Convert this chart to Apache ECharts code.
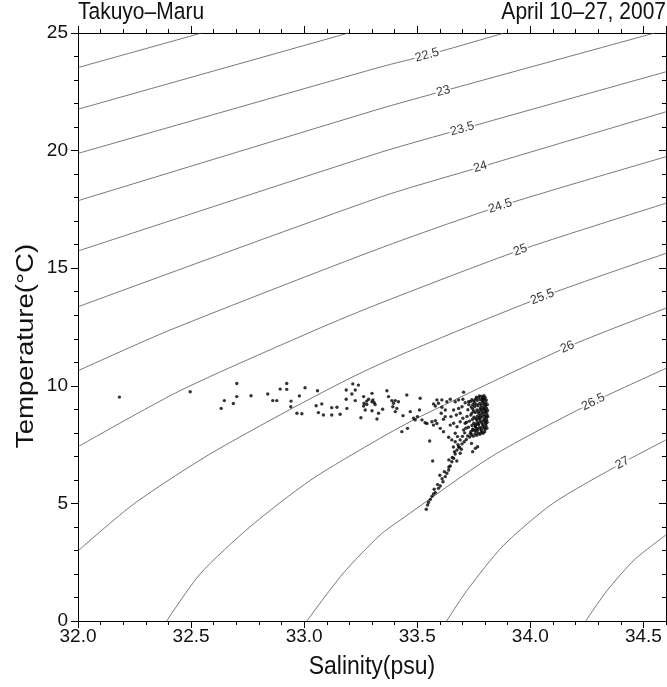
<!DOCTYPE html>
<html>
<head>
<meta charset="utf-8">
<script src="https://cdn.jsdelivr.net/npm/echarts@6/dist/echarts.min.js"></script>
<style>html,body{margin:0;padding:0;background:#fff}#c{width:667px;height:687px}</style>
</head>
<body>
<div id="c"></div>
<script>
// ---------- Data ----------
// Isopycnal (sigma-t) contour lines: [salinity, temperature] points
const iso21_5 = [[32.0,23.53],[32.547,25.0]];
const iso22_0 = [[32.0,21.76],[33.196,25.0]];
const iso22_5 = [[32.0,19.88],[33.336,23.55],[33.544,24.06],[33.885,25.0]];
const iso23_0 = [[32.0,17.87],[33.336,21.78],[33.615,22.53],[34.55,25.0]];
const iso23_5 = [[32.0,15.73],[33.336,19.92],[33.699,20.92],[34.6,23.35]];
const iso24_0 = [[32.0,13.36],[33.336,18.02],[33.779,19.30],[34.6,21.65]];
const iso24_5 = [[32.0,10.64],[32.407,12.37],[33.336,15.85],[33.867,17.64],[34.6,19.74]];
const iso25_0 = [[32.0,7.41],[32.451,9.79],[33.049,12.37],[33.336,13.51],[33.956,15.77],[34.6,17.76]];
const iso25_5 = [[32.0,2.98],[32.25,5.0],[32.614,7.27],[33.277,10.67],[34.053,13.78],[34.6,15.63]];
const iso26_0 = [[32.392,0],[32.54,2.0],[32.76,4.0],[33.03,6.0],[33.336,7.77],[33.513,8.69],[34.164,11.65],[34.6,13.30]];
const iso26_5 = [[33.012,0],[33.17,2.0],[33.336,3.66],[33.425,4.29],[33.83,7.0],[34.279,9.31],[34.6,10.74]];
const iso27_0 = [[33.63,0],[33.72,1.3],[33.88,3.2],[34.10,5.0],[34.407,6.72],[34.6,7.70]];
const iso27_5 = [[34.245,0],[34.34,1.3],[34.46,2.6],[34.6,3.66]];
const isoLevels = [21.5,22.0,22.5,23.0,23.5,24.0,24.5,25.0,25.5,26.0,26.5,27.0,27.5];
const isoLines = [iso21_5,iso22_0,iso22_5,iso23_0,iso23_5,iso24_0,iso24_5,iso25_0,iso25_5,iso26_0,iso26_5,iso27_0,iso27_5];

// Contour labels
const labelText = ['22.5','23','23.5','24','24.5','25','25.5','26','26.5','27'];
const labelSal  = [33.544,33.615,33.699,33.779,33.867,33.956,34.053,34.164,34.279,34.407];
const labelTemp = [24.06,22.53,20.92,19.30,17.64,15.77,13.78,11.65,9.31,6.72];

// Observations (CTD points)
const salinity = [
32.183,32.496,32.702,32.647,32.633,32.687,32.702,32.765,32.839,32.861,32.879,32.894,32.923,32.923,32.942,32.941,32.979,33.004,32.968,32.990,
33.059,33.053,33.078,33.063,33.085,33.122,33.145,33.122,33.159,33.186,33.186,33.189,33.215,33.240,33.226,33.211,33.226,33.263,33.265,33.277,
33.285,33.300,33.300,33.310,33.263,33.270,33.300,33.251,33.322,33.329,33.277,33.304,33.314,33.347,33.366,33.373,33.388,33.403,33.417,33.395,
33.392,33.410,33.403,33.437,33.454,33.432,33.457,33.469,33.484,33.491,33.501,33.513,33.510,33.521,33.535,33.543,33.565,33.580,33.572,33.587,
33.555,33.572,33.580,33.594,33.609,33.606,33.616,33.624,33.602,33.616,33.568,33.631,33.646,33.668,33.683,33.702,33.712,33.727,33.705,
33.639,33.653,33.668,33.668,33.678,33.683,33.646,33.661,33.676,33.690,33.649,33.673,33.690,33.702,33.661,33.683,33.698,33.705,33.712,33.624,
33.609,33.587,33.690,33.767,33.757,33.745,33.740,
33.540,33.546,33.558,33.572,33.580,33.594,33.602,33.614,33.624,33.631,33.639,33.646,33.653,33.661,33.668,33.676,33.687,33.698,33.708,33.717,
33.723,33.735,33.746,33.757,33.590,33.610,33.620,33.640,33.655,33.665,33.680,33.690,33.700,33.710,33.600,33.575,33.565,33.550,33.640,33.660,
33.695,33.675,
33.800,33.795,33.788,33.780,33.772,33.765,33.758,33.750,33.742,33.735,
33.803,33.797,33.790,33.783,33.776,33.768,33.761,33.754,33.746,33.739,
33.806,33.799,33.792,33.785,33.778,33.771,33.764,33.757,33.749,33.742,
33.808,33.801,33.794,33.787,33.780,33.773,33.766,33.759,33.751,33.744,
33.807,33.800,33.793,33.786,33.779,33.772,33.765,33.758,33.750,33.742,
33.804,33.797,33.790,33.783,33.776,33.769,33.762,33.754,33.746,33.738,
33.798,33.791,33.784,33.777,33.770,33.763,33.756,33.748,33.740,33.732,
33.805,33.802,33.804,33.806,33.803,33.800,33.795,33.785,33.775,33.762,
33.810,33.811,33.812,33.809,33.808,33.794,33.786,33.778,33.770,33.762,
33.752,33.745,33.737,33.731,33.726,33.728,33.724,33.720,33.718,33.715,
33.789,33.781,33.773,33.765,33.757,33.797,33.791,33.784,33.798,33.792
];
const temperature = [
9.52,9.75,10.10,9.37,9.04,9.25,9.54,9.58,9.65,9.37,9.37,9.86,10.10,9.85,9.35,9.11,9.57,9.92,8.83,8.81,
9.79,9.15,9.23,8.86,8.76,9.07,9.09,8.76,8.79,9.82,9.43,9.04,10.08,10.03,9.82,9.65,9.37,9.54,9.26,9.35,
9.43,9.68,9.32,9.28,9.14,8.97,8.94,8.64,8.59,8.83,9.21,9.40,9.20,9.00,9.79,9.54,9.37,9.37,9.32,9.26,
9.11,9.04,8.90,8.73,9.61,8.05,8.19,8.90,8.62,8.55,8.69,9.47,8.97,8.55,8.43,8.40,8.47,8.52,8.33,8.40,
7.65,9.23,9.14,9.26,9.09,8.83,8.58,8.69,8.19,8.05,6.80,9.32,9.43,9.32,9.40,9.43,9.28,9.32,9.73,
7.81,7.70,7.98,7.62,7.84,7.41,8.33,8.41,8.26,8.47,8.69,8.76,8.83,8.62,8.97,9.04,9.11,8.12,8.41,8.97,
9.40,9.40,7.13,7.41,7.34,7.20,7.55,
4.75,4.93,5.17,5.40,5.46,5.64,5.74,5.92,6.14,6.28,6.42,6.59,6.77,6.92,7.10,7.27,7.38,7.53,7.62,7.72,
7.87,7.98,8.12,8.26,5.80,6.05,6.35,6.55,6.95,7.20,7.50,7.70,7.85,8.00,6.20,5.60,5.30,5.05,6.85,7.40,
7.30,6.80,
9.50,9.42,9.46,9.40,9.48,9.38,9.44,9.36,9.41,9.33,
9.30,9.22,9.28,9.18,9.25,9.15,9.22,9.12,9.20,9.10,
9.05,8.98,9.02,8.94,9.00,8.90,8.97,8.87,8.93,8.84,
8.80,8.72,8.77,8.68,8.74,8.64,8.71,8.60,8.66,8.57,
8.55,8.47,8.52,8.42,8.49,8.39,8.45,8.35,8.41,8.31,
8.30,8.22,8.27,8.17,8.24,8.14,8.20,8.10,8.16,8.06,
8.05,7.98,8.02,7.94,8.00,7.90,7.96,7.86,7.92,7.82,
9.40,9.15,8.90,8.65,8.40,8.15,9.58,9.55,9.57,9.52,
9.20,8.95,8.70,8.45,8.20,9.10,8.85,8.60,8.35,8.08,
9.28,9.02,8.76,8.50,8.24,9.20,8.98,8.70,8.45,8.20,
9.35,9.08,8.82,8.56,8.29,8.60,8.35,8.10,8.88,9.45
];

// Axis ranges / tick steps
const salRange = [32.0, 34.6];
const tempRange = [0, 25];
const salMajor = 0.5, salMinor = 0.1, tempMajor = 5, tempMinor = 1;

// ---------- Chart ----------
const FONT = '"Liberation Sans", Arial, Helvetica, sans-serif';
const chart = echarts.init(document.getElementById('c'), null, {renderer: 'canvas'});
const G = {left: 78, right: 1, top: 33, bottom: 66, containLabel: false};
const black = '#000';

function xAxisDef(grid, pos, step, len, labels) {
  return {
    type: 'value', gridIndex: grid, position: pos, min: salRange[0], max: salRange[1], interval: step,
    axisLine: {show: true, onZero: false, lineStyle: {color: black, width: 1}},
    axisTick: {show: true, length: len, inside: false, lineStyle: {color: black, width: 1}},
    axisLabel: labels ? {show: true, formatter: v => v.toFixed(1), fontFamily: FONT, fontSize: 19,
      color: '#111', margin: 6, showMaxLabel: false} : {show: false},
    splitLine: {show: false}
  };
}
function yAxisDef(grid, pos, step, len, labels, inside) {
  return {
    type: 'value', gridIndex: grid, position: pos, min: tempRange[0], max: tempRange[1], interval: step,
    axisLine: {show: true, onZero: false, lineStyle: {color: black, width: 1}},
    axisTick: {show: true, length: len, inside: !!inside, lineStyle: {color: black, width: 1}},
    axisLabel: labels ? {show: true, fontFamily: FONT, fontSize: 19, color: '#111', margin: 10} : {show: false},
    splitLine: {show: false}
  };
}

const lineSeries = isoLines.map((pts, i) => ({
  name: 'sigma ' + isoLevels[i], type: 'line', xAxisIndex: 0, yAxisIndex: 0,
  data: pts, showSymbol: false, symbol: 'none', smooth: 0.25,
  lineStyle: {color: '#555', width: 0.8}, silent: true, animation: false, z: 2, clip: true
}));

const obs = salinity.map((s, i) => [s, temperature[i]]);

function labelSeries(angles) {
  return {
    name: 'labels', type: 'scatter', xAxisIndex: 0, yAxisIndex: 0, symbol: 'rect', symbolSize: 1,
    itemStyle: {color: 'rgba(0,0,0,0)'}, silent: true, animation: false, z: 5,
    data: labelSal.map((s, i) => ({value: [s, labelTemp[i]], label: {rotate: angles[i]}})),
    label: {show: true, position: 'inside', formatter: p => labelText[p.dataIndex],
      fontFamily: FONT, fontSize: 12.5, color: '#000', backgroundColor: '#fff', padding: [0, 1]}
  };
}
function obsSeries() {
  return {name: 'observations', type: 'scatter', xAxisIndex: 0, yAxisIndex: 0, data: obs,
    symbol: 'circle', symbolSize: 3.4, itemStyle: {color: '#000'}, silent: true, z: 4};
}

const option = {
  backgroundColor: '#fff',
  animation: false,
  grid: [Object.assign({}, G), Object.assign({}, G)],
  xAxis: [
    xAxisDef(0, 'bottom', salMajor, 7, true),
    xAxisDef(0, 'top', salMajor, 7, false),
    xAxisDef(1, 'bottom', salMinor, 4, false),
    xAxisDef(1, 'top', salMinor, 4, false)
  ],
  yAxis: [
    yAxisDef(0, 'left', tempMajor, 7, true),
    yAxisDef(0, 'right', tempMajor, 7, false, true),
    yAxisDef(1, 'left', tempMinor, 4, false),
    yAxisDef(1, 'right', tempMinor, 4, false, true)
  ],
  series: lineSeries.concat([obsSeries(), labelSeries(labelText.map(() => 0))]),
  graphic: [
    {type: 'text', x: 78, y: 13, scaleY: 1.12, style: {text: 'Takuyo\u2013Maru', font: '21px ' + FONT, fill: '#111', align: 'left', verticalAlign: 'middle'}},
    {type: 'text', x: 666, y: 13, scaleY: 1.12, style: {text: 'April 10\u201327, 2007', font: '21px ' + FONT, fill: '#111', align: 'right', verticalAlign: 'middle'}},
    {type: 'text', x: 372, y: 667, scaleY: 1.12, style: {text: 'Salinity(psu)', font: '23px ' + FONT, fill: '#111', align: 'center', verticalAlign: 'middle'}},
    {type: 'text', x: 27, y: 346, rotation: Math.PI / 2, scaleX: 1.2, style: {text: 'Temperature(\u00B0C)', font: '23px ' + FONT, fill: '#111', align: 'center', verticalAlign: 'middle'}}
  ]
};
chart.setOption(option);

// Rotate contour labels along their line direction
const angles = labelText.map((t, i) => {
  const line = isoLines[isoLevels.indexOf(parseFloat(t))];
  const k = line.findIndex(p => p[0] === labelSal[i]);
  const a = line[Math.max(0, k - 1)], b = line[Math.min(line.length - 1, k + 1)];
  const pa = chart.convertToPixel({xAxisIndex: 0, yAxisIndex: 0}, a);
  const pb = chart.convertToPixel({xAxisIndex: 0, yAxisIndex: 0}, b);
  return Math.atan2(pa[1] - pb[1], pb[0] - pa[0]) * 180 / Math.PI;
});
chart.setOption({series: lineSeries.concat([obsSeries(), labelSeries(angles)])});
</script>
</body>
</html>
